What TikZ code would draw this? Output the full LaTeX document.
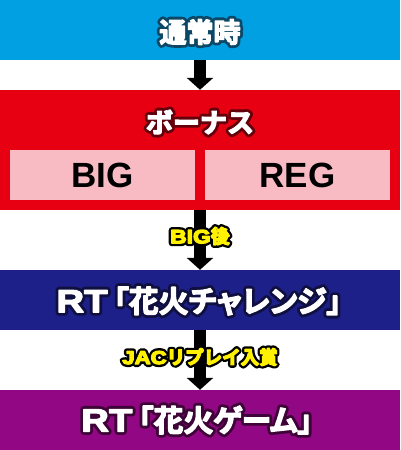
\documentclass[tikz,border=0pt]{standalone}
\usepackage{fontspec}
\setmainfont{Liberation Sans}
\newfontfamily\widesans{Liberation Sans}[FakeStretch=1.2]
\newfontfamily\cjk{Noto Sans CJK JP}[BoldFont={Noto Sans CJK JP Bold}]
\newfontfamily\cjkp{Noto Sans CJK JP}[BoldFont={Noto Sans CJK JP Bold},RawFeature=+palt]
\usetikzlibrary{arrows.meta}
\definecolor{cblue}{RGB}{0,160,226}
\definecolor{cred}{RGB}{230,0,18}
\definecolor{cpink}{RGB}{248,187,196}
\definecolor{cnavy}{RGB}{29,32,136}
\definecolor{cpurple}{RGB}{146,7,131}
\definecolor{oblue}{RGB}{12,72,102}
\definecolor{ored}{RGB}{100,0,12}
\definecolor{onavy}{RGB}{16,16,64}
\definecolor{opurple}{RGB}{62,4,56}
\definecolor{cyellow}{RGB}{255,241,0}
% #1 name, #2 position, #3 fill colour, #4 outline colour, #5 outline stroke width (bp), #6 text
\newcommand\outlinedtext[6]{%
  \node[txt,text=#4] at (#2) {\special{pdf:literal direct 2 Tr #5 w 1 j}#6\special{pdf:literal direct 0 Tr}};
  \node[txt,text=#3] (#1) at (#2) {\special{pdf:literal direct 2 Tr 1.3 w 1 j}#6\special{pdf:literal direct 0 Tr}};}
\tikzset{
  band/.style={rectangle,inner sep=0pt,minimum width=400pt,minimum height=60pt,draw=none},
  pinkbox/.style={rectangle,inner sep=0pt,minimum width=185pt,minimum height=50pt,fill=cpink,
    font=\fontsize{35}{35}\selectfont\bfseries,text=black},
  conn/.style={line width=12pt,-{Triangle[width=26pt,length=12pt]}},
  txt/.style={inner sep=0pt},
}
\begin{document}
\begin{tikzpicture}[x=1pt,y=-1pt]
\useasboundingbox (0,0) rectangle (400,450);
\node[band,fill=cblue] (normal) at (200,30) {};
\node[band,fill=cred,minimum height=120pt] (bonus) at (200,150) {};
\node[pinkbox] (big) at (102.5,175) {BIG};
\node[pinkbox] (reg) at (297.5,175) {REG};
\node[band,fill=cnavy] (rtc) at (200,300) {};
\node[band,fill=cpurple] (rtg) at (200,420) {};
\draw[conn] (normal.south) -- (bonus.north);
\draw[conn] (bonus.south) -- (rtc.north);
\draw[conn] (rtc.south) -- (rtg.north);
\outlinedtext{tnormal}{200,32}{white}{oblue}{7}{\fontsize{27}{27}\selectfont\cjk\bfseries 通常時}
\outlinedtext{tbonus}{200,122}{white}{ored}{7}{\fontsize{27}{27}\selectfont\cjk\bfseries ボーナス}
\outlinedtext{lbig}{200,236}{cyellow}{black}{6}{\fontsize{19}{19}\selectfont\widesans\bfseries BIG{\cjk 後}}
\outlinedtext{trtc}{199,301}{white}{onavy}{7}{\fontsize{32}{32}\selectfont\widesans\bfseries RT\kern6pt{\fontsize{30}{30}\selectfont\cjkp 「花火チャレンジ」}}
\outlinedtext{ljac}{200,357}{cyellow}{black}{6}{\fontsize{18.5}{18.5}\selectfont\widesans\bfseries JAC{\cjk リプレイ入賞}}
\outlinedtext{trtg}{197,420}{white}{opurple}{7}{\fontsize{32}{32}\selectfont\widesans\bfseries RT\kern6pt{\fontsize{30}{30}\selectfont\cjkp 「花火ゲーム」}}
\end{tikzpicture}
\end{document}
